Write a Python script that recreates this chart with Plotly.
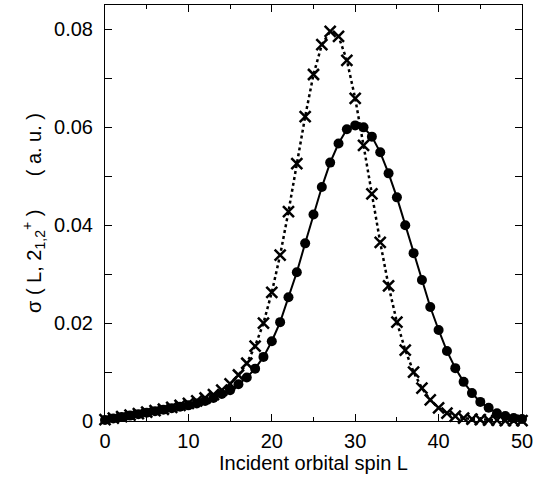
import plotly.graph_objects as go

L = list(range(0, 51))

sigma_circles = [0.0002, 0.0005, 0.0008, 0.0011, 0.0014, 0.0017, 0.0020, 0.0023, 0.0026, 0.0029,
                 0.0032, 0.0036, 0.0041, 0.0047, 0.0055, 0.0063, 0.0075, 0.0089, 0.0107, 0.0131,
                 0.0163, 0.0202, 0.0253, 0.0304, 0.0363, 0.0422, 0.0478, 0.0528, 0.0567, 0.0596,
                 0.0604, 0.0600, 0.0581, 0.0549, 0.0506, 0.0457, 0.0400, 0.0343, 0.0288, 0.0233,
                 0.0186, 0.0143, 0.0108, 0.0080, 0.0057, 0.0039, 0.0027, 0.0016, 0.0010, 0.0006,
                 0.0004]

sigma_crosses = [0.0003, 0.0006, 0.0009, 0.0012, 0.0015, 0.0018, 0.0021, 0.0024, 0.0028, 0.0032,
                 0.0036, 0.0041, 0.0047, 0.0054, 0.0063, 0.0076, 0.0094, 0.0118, 0.0153, 0.0200,
                 0.0263, 0.0339, 0.0428, 0.0526, 0.0622, 0.0708, 0.0769, 0.0796, 0.0786, 0.0737,
                 0.0659, 0.0563, 0.0464, 0.0365, 0.0276, 0.0202, 0.0145, 0.0100, 0.0067, 0.0043,
                 0.0027, 0.0016, 0.0010, 0.0006, 0.0004, 0.0003, 0.0002, 0.0002, 0.0001, 0.0001,
                 0.0001]

x_title = "Incident orbital spin L"
y_title = "σ ( L, 2<sub>1,2</sub><sup>+</sup> )\u00a0\u00a0\u00a0\u00a0\u00a0\u00a0( a. u. )"

FONT = "Liberation Sans, Arial, sans-serif"

fig = go.Figure()
fig.add_trace(go.Scatter(
    x=L, y=sigma_circles, mode="lines+markers",
    line=dict(color="black", width=2),
    marker=dict(symbol="circle", size=10, color="black"),
    cliponaxis=False, showlegend=False))
fig.add_trace(go.Scatter(
    x=L, y=sigma_crosses, mode="lines+markers",
    line=dict(color="black", width=2.5, dash="dot"),
    marker=dict(symbol="x-thin", size=11, color="black",
                line=dict(color="black", width=2.5)),
    cliponaxis=False, showlegend=False))

axis_common = dict(
    showline=True, linecolor="black", linewidth=1, mirror="ticks",
    ticks="inside", ticklen=7, tickwidth=1, tickcolor="black",
    showgrid=False, zeroline=False,
    tickfont=dict(family=FONT, size=20, color="black"),
)

fig.update_xaxes(range=[0, 50], dtick=10, tick0=0,
                 minor=dict(dtick=5, ticks="inside", ticklen=4, tickcolor="black"),
                 title=dict(text=x_title, font=dict(family=FONT, size=20, color="black"), standoff=4),
                 ticklabelstandoff=2,
                 **axis_common)
fig.update_yaxes(range=[0, 0.085], dtick=0.02, tick0=0,
                 minor=dict(dtick=0.01, ticks="inside", ticklen=7, tickcolor="black"),
                 title=dict(text=y_title, font=dict(family=FONT, size=20, color="black"), standoff=7),
                 ticklabelstandoff=7,
                 **axis_common)

fig.update_layout(
    width=543, height=482,
    margin=dict(l=105, r=21, t=5, b=61, autoexpand=False),
    paper_bgcolor="white", plot_bgcolor="white",
    font=dict(family=FONT, size=20, color="black"),
)

fig.write_html("out.html", config={"displayModeBar": False},
               post_script="document.body.style.margin='0px';")
